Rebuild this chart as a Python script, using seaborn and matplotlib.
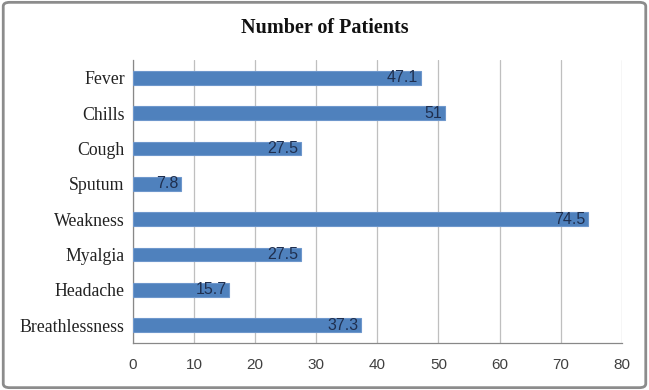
import matplotlib
matplotlib.use("Agg")
import matplotlib.pyplot as plt
import seaborn as sns
import pandas as pd
from matplotlib.patches import FancyBboxPatch

symptoms = ["Fever", "Chills", "Cough", "Sputum", "Weakness", "Myalgia", "Headache", "Breathlessness"]
values = [47.1, 51, 27.5, 7.8, 74.5, 27.5, 15.7, 37.3]
labels = ["47.1", "51", "27.5", "7.8", "74.5", "27.5", "15.7", "37.3"]
xticks = [0, 10, 20, 30, 40, 50, 60, 70, 80]

df = pd.DataFrame({"Symptom": symptoms, "Value": values})

sns.set_theme(style="white")
plt.rcParams["font.family"] = ["Liberation Serif", "DejaVu Serif"]

fig = plt.figure(figsize=(6.49, 3.9), dpi=100)
ax = fig.add_axes([0.205, 0.121, 0.753, 0.725])

sns.barplot(data=df, y="Symptom", x="Value", orient="h", color="#4F81BD",
            saturation=1, width=0.39, edgecolor="#6E97CC", linewidth=0.8, ax=ax, zorder=3)

ax.set_xlim(0, 80)
ax.set_xticks(xticks)
ax.set_xticklabels([str(t) for t in xticks], family=["Liberation Sans", "DejaVu Sans"], fontsize=11, color="#404040")
ax.set_ylim(len(symptoms) - 0.5, -0.5)
ax.set_xlabel("")
ax.set_ylabel("")
ax.tick_params(axis="y", labelsize=12.8, length=0, pad=6, colors="#222222")
ax.tick_params(axis="x", length=4, width=0.8, color="#888888", pad=7, direction="out")
ax.set_yticks([i - 0.5 for i in range(len(symptoms) + 1)], minor=True)
ax.tick_params(axis="y", which="minor", length=4, width=0.8, color="#888888", direction="out")

ax.grid(axis="x", color="#BFBFBF", linewidth=0.9, zorder=0)
ax.set_axisbelow(True)
for s in ["top", "right"]:
    ax.spines[s].set_visible(False)
for s in ["left", "bottom"]:
    ax.spines[s].set_color("#888888")
    ax.spines[s].set_linewidth(0.9)

for i, (v, lab) in enumerate(zip(values, labels)):
    ax.text(v - 0.4, i, lab, ha="right", va="center", fontsize=11.5,
            family=["Liberation Sans", "DejaVu Sans"], color="#1F2F4F", zorder=4)

fig.text(0.5, 0.928, "Number of Patients", ha="center", va="center",
         fontsize=14.5, fontweight="bold", family=["Liberation Serif", "DejaVu Serif"], color="#111111")

frame = FancyBboxPatch((0.005, 0.006), 0.99, 0.988, boxstyle="round,pad=0,rounding_size=0.01",
                       transform=fig.transFigure, fill=False, edgecolor="#8C8C8C", linewidth=2)
fig.patches.append(frame)

fig.savefig("out.png", dpi=100, facecolor="white")
